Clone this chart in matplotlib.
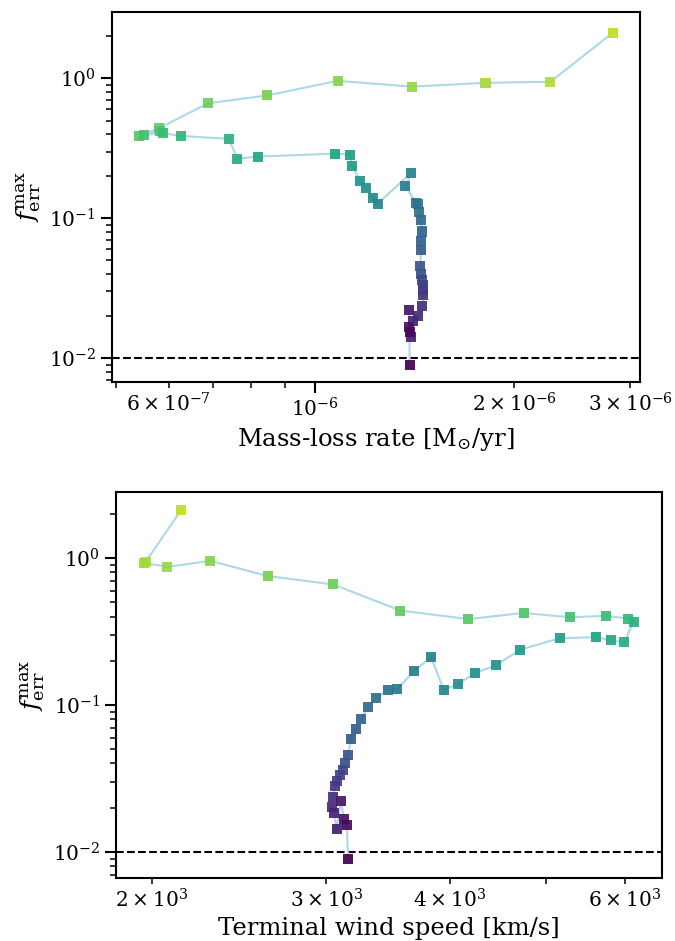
import numpy as np
import matplotlib
matplotlib.use("Agg")
import matplotlib.pyplot as plt

plt.rcParams['font.family'] = ['DejaVu Serif']
plt.rcParams['mathtext.fontset'] = 'dejavuserif'

# iteration sequence (first -> last)
f_err = [2.12, 0.946, 0.93, 0.873, 0.96, 0.756, 0.663, 0.44, 0.385, 0.424,
         0.396, 0.405, 0.388, 0.37, 0.267, 0.276, 0.29, 0.285, 0.238, 0.186,
         0.165, 0.139, 0.127, 0.212, 0.17, 0.128, 0.127, 0.111, 0.0975, 0.0805,
         0.0685, 0.059, 0.0455, 0.0400, 0.0362, 0.0332, 0.0305, 0.0281, 0.0235, 0.0202,
         0.0185, 0.0142, 0.0222, 0.0168, 0.0153, 0.0089]

mdot = [2.82e-6, 2.27e-6, 1.81e-6, 1.403e-6, 1.081e-6, 8.46e-7, 6.88e-7, 5.80e-7, 5.41e-7, 5.83e-7,
        5.51e-7, 5.89e-7, 6.26e-7, 7.40e-7, 7.62e-7, 8.18e-7, 1.072e-6, 1.128e-6, 1.136e-6, 1.17e-6,
        1.195e-6, 1.225e-6, 1.243e-6, 1.398e-6, 1.369e-6, 1.422e-6, 1.43e-6, 1.438e-6, 1.447e-6, 1.450e-6,
        1.445e-6, 1.445e-6, 1.443e-6, 1.446e-6, 1.450e-6, 1.455e-6, 1.458e-6, 1.458e-6, 1.452e-6, 1.430e-6,
        1.405e-6, 1.394e-6, 1.386e-6, 1.386e-6, 1.389e-6, 1.389e-6]

vinf = [2141, 1972, 1965, 2074, 2292, 2619, 3049, 3564, 4174, 4746,
        5281, 5751, 6049, 6128, 5993, 5814, 5618, 5159, 4706, 4448,
        4235, 4075, 3942, 3828, 3676, 3540, 3461, 3371, 3303, 3256,
        3215, 3181, 3153, 3133, 3117, 3097, 3078, 3064, 3050, 3043,
        3055, 3074, 3102, 3128, 3146, 3157]

threshold = 0.01

n = len(f_err)
cvals = np.linspace(0.9, 0.0, n)
colors = plt.cm.viridis(cvals)

fig = plt.figure(figsize=(6.75, 9.41), dpi=100)
ax1 = fig.add_axes([0.1655, 0.5944, 0.948 - 0.1655, 0.9872 - 0.5944])
ax2 = fig.add_axes([0.1719, 0.0666, 0.981 - 0.1719, 0.4775 - 0.0666])

def style(ax):
    ax.set_xscale('log')
    ax.set_yscale('log')
    for s in ax.spines.values():
        s.set_linewidth(1.5)
    ax.tick_params(which='both', labelsize=14.5, direction='out')
    ax.tick_params(which='major', length=8, width=1.5)
    ax.tick_params(which='minor', length=4, width=1.1)
    ax.set_ylabel(r'$f_{\rm err}^{\rm max}$', fontsize=18, labelpad=4)

for ax, xdata, xlabel in [(ax1, mdot, r'Mass-loss rate [M$_{\odot}$/yr]'),
                           (ax2, vinf, 'Terminal wind speed [km/s]')]:
    ax.plot(xdata, f_err, color='lightblue', lw=1.5, zorder=1)
    ax.scatter(xdata, f_err, c=colors, marker='s', s=52, alpha=0.92,
               edgecolors='none', zorder=2)
    ax.axhline(threshold, color='black', ls='--', lw=1.5, zorder=0)
    style(ax)
    ax.set_xlabel(xlabel, fontsize=17.5)

ax1.set_xlim(4.92e-7, 3.10e-6)
ax1.set_ylim(6.8e-3, 2.98)
ax2.set_xlim(1841, 6548)
ax2.set_ylim(6.6e-3, 2.84)

fig.savefig('out.png', dpi=100)
